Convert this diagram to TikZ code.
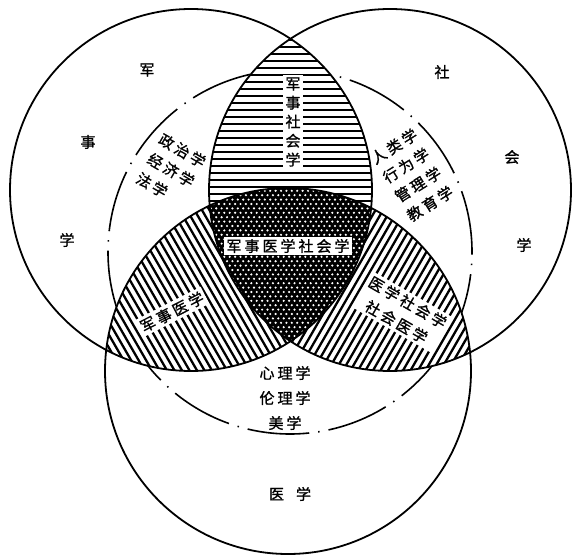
\documentclass[tikz,border=0pt]{standalone}
\usepackage{fontspec}
\newfontfamily\cjk[LetterSpace=20,FakeBold=1.2]{Noto Sans CJK SC}
\tikzset{
  circ/.style={line width=1.8pt},
  dashline/.style={line width=1.6pt,dash pattern=on 62pt off 9pt on 1.5pt off 9pt},
  hatch/.style={line width=2.3pt},
  lbl/.style={font={\cjk\fontsize{15}{22.5}\selectfont},inner sep=1pt},
  boxlbl/.style={lbl,fill=white,inner sep=2.5pt}
}

\begin{document}
\begin{tikzpicture}[x=1pt,y=-1pt]
\useasboundingbox (0,0) rectangle (572,556);

\coordinate (OL) at (191,190);
\coordinate (OR) at (390,190);
\coordinate (OB) at (288,371);
\coordinate (OD) at (290,252);

\draw[dashline] (OD) circle[radius=182pt];

\begin{scope}
\clip (OL) circle[radius=181pt];
\clip (OR) circle[radius=181pt];
\fill[white] (0,0) rectangle (572,556);
\foreach \y in {40,47,...,345} \draw[hatch] (200,\y) -- (380,\y);
\end{scope}

\begin{scope}
\clip (OL) circle[radius=181pt];
\clip (OB) circle[radius=183pt];
\fill[white] (0,0) rectangle (572,556);
\foreach \x in {0,7.5,...,450} \draw[hatch] (\x,250) ++(-120,-208) -- ++(240,416);
\end{scope}

\begin{scope}
\clip (OR) circle[radius=181pt];
\clip (OB) circle[radius=183pt];
\fill[white] (0,0) rectangle (572,556);
\foreach \x in {150,157.5,...,600} \draw[hatch] (\x,250) ++(120,-208) -- ++(-240,416);
\end{scope}

\begin{scope}
\clip (OL) circle[radius=181pt];
\clip (OR) circle[radius=181pt];
\clip (OB) circle[radius=183pt];
\fill[black] (200,180) rectangle (380,350);
\foreach \j in {0,...,39} \foreach \i in {0,...,33}
  \fill[white] ({200+5.4*\i+2.7*mod(\j,2)},{182+4.4*\j}) circle[radius=1.2pt];
\end{scope}

\draw[circ] (OL) circle[radius=181pt] (OR) circle[radius=181pt] (OB) circle[radius=183pt];

\node[lbl] (junL) at (147,70) {军};
\node[lbl] (shiL) at (88,142) {事};
\node[lbl] (xueL) at (67,240) {学};
\node[lbl] (sheR) at (442,72) {社};
\node[lbl] (huiR) at (512,157) {会};
\node[lbl] (xueR) at (524,245) {学};
\node[lbl] (yixue) at (290,494) {医\hspace{12pt}学};

\node[boxlbl,align=center,font={\cjk\fontsize{15}{19}\selectfont}] (jssh) at (293,122) {军\\事\\社\\会\\学};
\node[lbl,align=left,rotate=-30] (zhengzhi) at (171,170) {政治学\\经济学\\法学};
\node[lbl,align=left,rotate=32] (renlei) at (412,175) {人类学\\行为学\\管理学\\教育学};
\node[boxlbl] (core) at (288,246) {军事医学社会学};
\node[boxlbl,rotate=27] (jsyx) at (172,312) {军事医学};
\node[boxlbl,align=center,rotate=-30] (yxsh) at (402,312) {医学社会学\\社会医学};
\node[lbl,align=center,font={\cjk\fontsize{15}{25}\selectfont}] (xinli) at (285,398) {心理学\\伦理学\\美学};
\end{tikzpicture}
\end{document}
